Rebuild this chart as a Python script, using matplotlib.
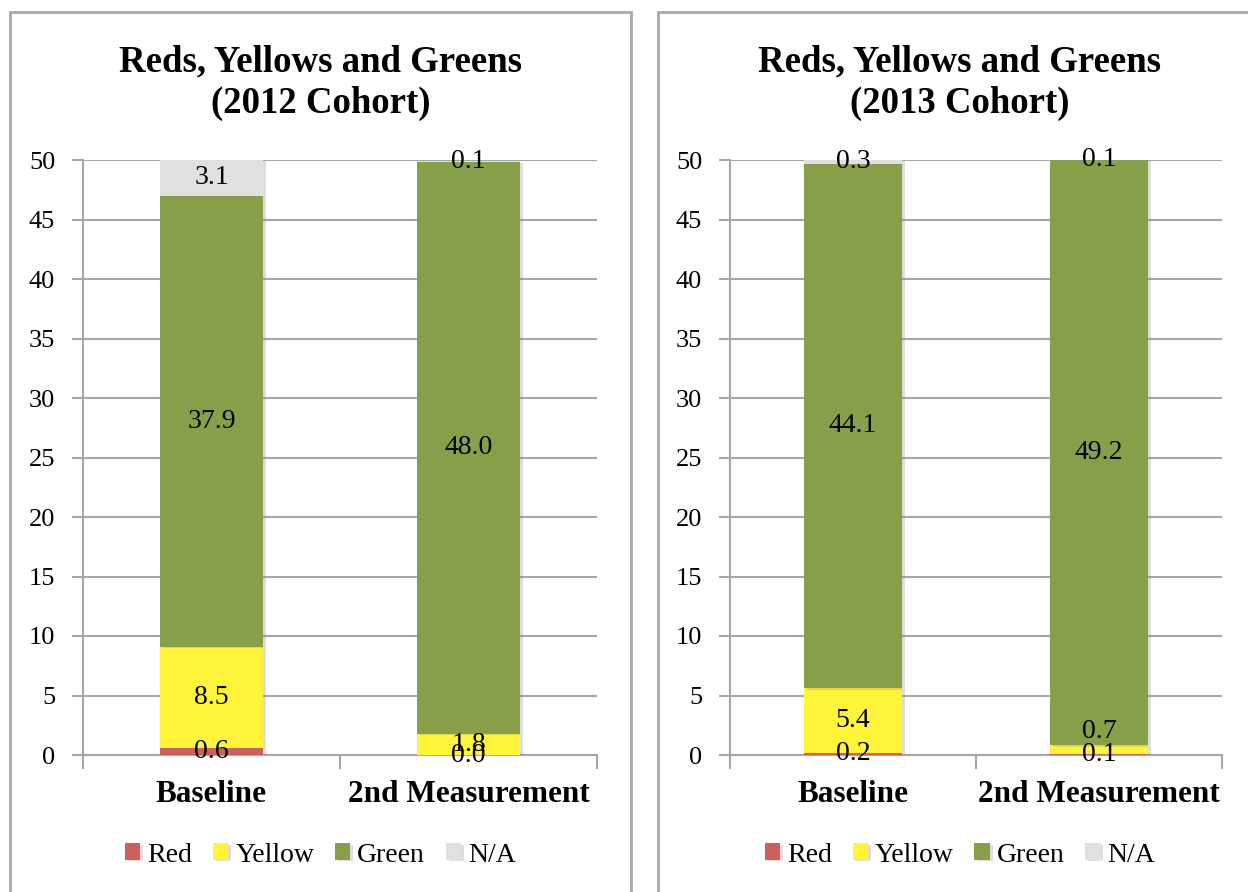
import matplotlib
matplotlib.use("Agg")
import matplotlib.pyplot as plt
from matplotlib.patches import Rectangle
import matplotlib.patheffects as pe

plt.rcParams['font.family'] = ['Liberation Serif', 'DejaVu Serif']

categories = ['Baseline', '2nd Measurement']
series = ['Red', 'Yellow', 'Green', 'N/A']
colors = ['#CD6159', '#FFF43A', '#889F4A', '#E0E0E0']

cohort_2012 = {
    'Red': [0.6, 0.0],
    'Yellow': [8.5, 1.8],
    'Green': [37.9, 48.0],
    'N/A': [3.1, 0.1],
}
cohort_2013 = {
    'Red': [0.2, 0.1],
    'Yellow': [5.4, 0.7],
    'Green': [44.1, 49.2],
    'N/A': [0.3, 0.1],
}
titles = ['Reds, Yellows and Greens\n(2012 Cohort)',
          'Reds, Yellows and Greens\n(2013 Cohort)']

W, H = 1248, 892
fig = plt.figure(figsize=(W / 100, H / 100), dpi=100)
fig.patch.set_facecolor('white')

grid_col = '#A6A6A6'
border_col = '#A8A8A8'


def px_axes(x0, x1, y_top, y_bot):
    return fig.add_axes([x0 / W, (H - y_bot) / H, (x1 - x0) / W, (y_bot - y_top) / H])


def draw_panel(ax, data, title, px_left, px_right):
    # panel frame
    fig.patches.append(Rectangle((px_left / W, -0.1), (px_right - px_left) / W, (H - 12) / H + 0.1,
                                 transform=fig.transFigure, fill=False,
                                 edgecolor=border_col, linewidth=2))
    cx = (px_left + px_right) / 2 / W
    fig.text(cx, (H - 83) / H, title, ha='center', va='center', fontsize=26.5,
             fontweight='bold', linespacing=1.25)

    x = list(range(len(categories)))
    bottoms = [0.0] * len(categories)
    last_label = [None] * len(categories)
    shadow = [pe.SimplePatchShadow(offset=(2, -1), shadow_rgbFace='#909090', alpha=0.3), pe.Normal()]
    for name, col in zip(series, colors):
        vals = data[name]
        bars = ax.bar(x, vals, width=0.4, bottom=bottoms, color=col, zorder=3,
                      label=name, linewidth=0)
        for b in bars:
            b.set_path_effects(shadow)
        for i, (xi, v, b0) in enumerate(zip(x, vals, bottoms)):
            y = b0 + v / 2
            # lift a label that would sit right on top of the one below it
            if last_label[i] is not None and y - last_label[i] < 0.5:
                y = last_label[i] + 1.9
            last_label[i] = y
            ax.text(xi, y, f'{v:.1f}', ha='center', va='center',
                    fontsize=20, zorder=5)
        bottoms = [b0 + v for b0, v in zip(bottoms, vals)]

    ax.set_xlim(-0.5, len(categories) - 0.5)
    ax.set_ylim(0, 50)
    ax.set_yticks(range(0, 51, 5))
    ax.yaxis.grid(True, color=grid_col, linewidth=1.5, zorder=0)
    ax.set_axisbelow(True)
    ax.tick_params(axis='y', length=8, width=1.5, color=grid_col, labelsize=19, pad=12)
    ax.set_xticks(x)
    ax.set_xticklabels(categories, fontsize=22.5, fontweight='bold')
    ax.set_xticks([-0.5, 0.5, 1.5], minor=True)
    ax.tick_params(axis='x', which='major', length=0, pad=18)
    ax.tick_params(axis='x', which='minor', length=10, width=1.5, color=grid_col)
    for s in ['top', 'right']:
        ax.spines[s].set_visible(False)
    for s in ['left', 'bottom']:
        ax.spines[s].set_color(grid_col)
        ax.spines[s].set_linewidth(1.5)

    handles, labels = ax.get_legend_handles_labels()
    fig.legend(handles, labels, loc='center', ncol=4, frameon=False,
               bbox_to_anchor=(cx, 37 / H), fontsize=20, handlelength=0.55,
               handleheight=0.55, handletextpad=0.25, columnspacing=0.75,
               borderpad=0, borderaxespad=0)


ax1 = px_axes(83, 597, 160, 755)
ax2 = px_axes(730, 1222, 160, 755)
draw_panel(ax1, cohort_2012, titles[0], 10, 631)
draw_panel(ax2, cohort_2013, titles[1], 658, 1262)

fig.savefig('out.png', dpi=100)
